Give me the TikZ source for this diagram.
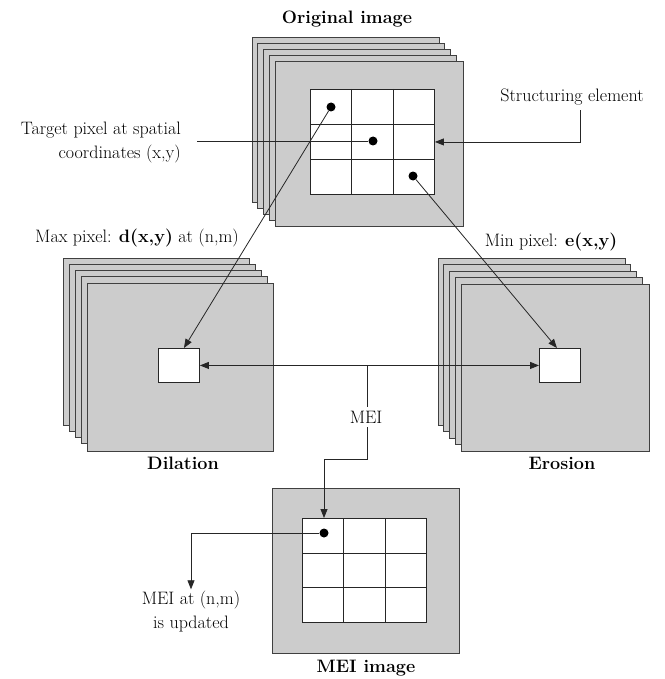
\documentclass[tikz,border=0pt]{standalone}
\usetikzlibrary{arrows.meta,calc}
\begin{document}
\begin{tikzpicture}[x=1pt,y=-1pt,
  layer/.style={draw=black!75, fill=gray!40, line width=0.9pt},
  layernode/.style={layer, anchor=north west, inner sep=0pt},
  gridbox/.style={draw=black!85, fill=white, line width=0.9pt, anchor=north west, inner sep=0pt},
  gline/.style={draw=black!85, line width=0.9pt},
  dot/.style={circle, fill=black, inner sep=0pt, minimum size=9pt},
  conn/.style={line width=0.8pt, draw=black!85},
  arr/.style={conn, -{Triangle[length=9pt,width=7pt]}},
  arrr/.style={conn, {Triangle[length=9pt,width=7pt]}-{Triangle[length=9pt,width=7pt]}},
  lbl/.style={font=\fontsize{18}{24}\selectfont, inner sep=2pt},
  ttl/.style={font=\fontsize{18}{21}\selectfont\bfseries}]
\useasboundingbox (0,0) rectangle (664,679);

% ---------- Original image stack ----------
\foreach \i in {0,...,3}
  \draw[layer] (252+5.75*\i, 37+6*\i) rectangle ++(187,165);
\node[layernode, minimum width=188pt, minimum height=165pt] (orig) at (275,61) {};
\node[gridbox, minimum width=124pt, minimum height=105pt] (og) at (310,89) {};
\foreach \f in {1/3,2/3} {
  \draw[gline] ($(og.north west)!\f!(og.north east)$) -- ($(og.south west)!\f!(og.south east)$);
  \draw[gline] ($(og.north west)!\f!(og.south west)$) -- ($(og.north east)!\f!(og.south east)$);
}
\node[dot] (d1) at (331,107) {};
\node[dot] (d2) at (373,141) {};
\node[dot] (d3) at (413,176) {};
\node[ttl] (origlab) at (347,19) {Original image};

% ---------- Dilation stack ----------
\foreach \i in {0,...,3}
  \draw[layer] (63+6*\i, 258+6.25*\i) rectangle ++(186,167);
\node[layernode, minimum width=186pt, minimum height=168pt] (dil) at (87,283) {};
\node[gridbox, minimum width=41pt, minimum height=34pt] (dbox) at (158,348) {};
\node[ttl] (dillab) at (183,463) {Dilation};

% ---------- Erosion stack ----------
\foreach \i in {0,...,3}
  \draw[layer] (438+5.75*\i, 258+6.5*\i) rectangle ++(187,167);
\node[layernode, minimum width=188pt, minimum height=167pt] (ero) at (461,284) {};
\node[gridbox, minimum width=41pt, minimum height=34pt] (ebox) at (539,348) {};
\node[ttl] (erolab) at (562,463) {Erosion};

% ---------- MEI image ----------
\node[layernode, minimum width=187pt, minimum height=165pt] (mei) at (272,488) {};
\node[gridbox, minimum width=124pt, minimum height=104pt] (mg) at (302,518) {};
\foreach \f in {1/3,2/3} {
  \draw[gline] ($(mg.north west)!\f!(mg.north east)$) -- ($(mg.south west)!\f!(mg.south east)$);
  \draw[gline] ($(mg.north west)!\f!(mg.south west)$) -- ($(mg.north east)!\f!(mg.south east)$);
}
\node[dot] (md) at (324,533) {};
\node[ttl] (meilab2) at (366,668) {MEI image};

% ---------- labels ----------
\node[lbl, align=right, anchor=east] (tgt) at (183,143) {Target pixel at spatial\\coordinates (x,y)};
\node[lbl] (se) at (572,97) {Structuring element};
\node[lbl] (maxl) at (137,238) {Max pixel: \textbf{d(x,y)} at (n,m)};
\node[lbl] (minl) at (551,242) {Min pixel: \textbf{e(x,y)}};
\node[lbl, inner sep=4pt] (meil) at (366,417) {MEI};
\node[lbl, align=center] (upd) at (191,612) {MEI at (n,m)\\is updated};

% ---------- connectors ----------
\coordinate (tgtend) at (197,141);
\draw[conn] (tgtend) -- (d2);
\draw[arr] ([yshift=-3pt]se.south -| 580,0) |- (og.east);
\draw[arr] (d1) -- ([xshift=5pt]dbox.north);
\draw[arr] (d3) -- ([xshift=-3pt]ebox.north);
\draw[arrr] (dbox.east) -- (ebox.west);
\coordinate (mtop) at (367,365);
\draw[conn] (mtop) -- (meil.north -| mtop);
\coordinate (mturn) at (367,459);
\draw[arr] (meil.south -| mtop) -- (mturn) -| (md |- mg.north);
\draw[arr] (md) -| (upd.north);
\end{tikzpicture}
\end{document}
